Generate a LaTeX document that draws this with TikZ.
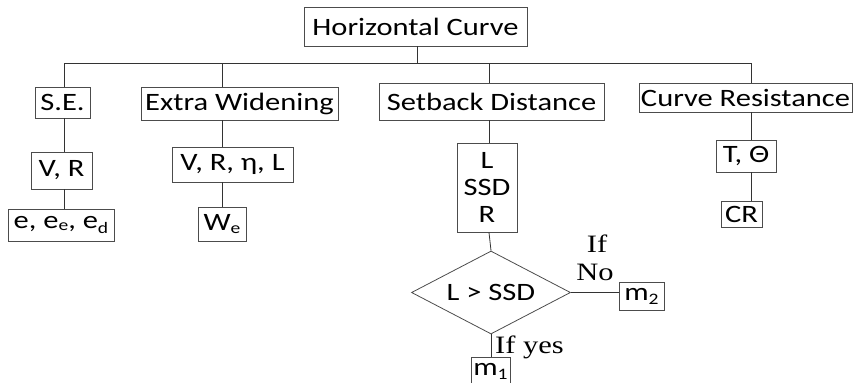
\documentclass[tikz,border=0pt]{standalone}
\usepackage{fontspec}
\setmainfont[FakeStretch=1.22]{Carlito}
\newfontfamily\serifstretch[FakeStretch=1.22]{Liberation Serif}
\usetikzlibrary{shapes.geometric}
\newcommand\sbx[2][3pt]{\raisebox{-#1}{\fontsize{16}{16}\selectfont #2}}
\begin{document}
\begin{tikzpicture}[x=1pt,y=-1pt,
  box/.style={draw=black!70,line width=0.8pt,rectangle,inner sep=0pt,font=\fontsize{25}{27}\selectfont},
  conn/.style={draw=black!80,line width=0.8pt},
  lbl/.style={font=\serifstretch\fontsize{25}{27}\selectfont,inner sep=0pt}]
\useasboundingbox (0,0) rectangle (855,383);
% boxes
\node[box,minimum width=223,minimum height=39] (hc) at (415.5,26.5) {Horizontal Curve};
\node[box,minimum width=55,minimum height=31] (se) at (62.5,102.5) {S.E.};
\node[box,minimum width=197,minimum height=33] (ew) at (239.5,103.5) {Extra Widening};
\node[box,minimum width=225,minimum height=37] (sd) at (491.5,101.5) {Setback Distance};
\node[box,minimum width=213,minimum height=29] (cr) at (745.5,97.5) {Curve Resistance};
\node[box,minimum width=61,minimum height=37] (vr) at (61.5,170.5) {V, R};
\node[box,minimum width=121,minimum height=35] (vrnl) at (232.5,164.5) {V, R, η, L};
\node[box,minimum width=60,minimum height=89,align=center] (lsr) at (487,187.5) {L\\SSD\\R};
\node[box,minimum width=60,minimum height=32] (tt) at (746,156) {T, Θ};
\node[box,minimum width=106,minimum height=32] (ee) at (61,225) {e, e\sbx[2pt]{e}, e\sbx[5pt]{d}};
\node[box,minimum width=48,minimum height=34] (we) at (222,224) {W\sbx[3pt]{e}};
\node[box,minimum width=41,minimum height=26] (crr) at (741.5,214) {CR};
\node[box,draw=black!70,shape=diamond,shape aspect=1.92,minimum width=159,minimum height=83] (dia) at (491,292.5) {L > SSD};
\node[box,minimum width=45,minimum height=28] (m2) at (641.5,296) {m\sbx[4pt]{2}};
\node[box,minimum width=39,minimum height=28] (m1) at (490.5,371) {m\sbx[4pt]{1}};
% labels
\node[lbl,anchor=base] (lif) at (597,252) {If};
\node[lbl,anchor=base] (lno) at (595,280) {No};
\node[lbl,anchor=base west] (lyes) at (495,353) {If yes};
% bar coordinates
\coordinate (bt) at (417,63);
\coordinate (b1) at (64,63);
\coordinate (b2) at (222,63);
\coordinate (b3) at (489,63);
\coordinate (b4) at (751,63);
% connectors
\draw[conn] (hc.south -| bt) -- (bt);
\draw[conn] (b1) -- (b4);
\draw[conn] (b1) -- (se.north -| b1);
\draw[conn] (b2) -- (ew.north -| b2);
\draw[conn] (b3) -- (sd.north -| b3);
\draw[conn] (b4) -- (cr.north -| b4);
\draw[conn] (se.south -| b1) -- (vr.north -| b1);
\draw[conn] (vr.south -| b1) -- (ee.north -| b1);
\draw[conn] (ew.south -| b2) -- (vrnl.north -| b2);
\draw[conn] (vrnl.south -| b2) -- (we.north -| b2);
\draw[conn] (sd.south -| b3) -- (lsr.north -| b3);
\draw[conn] (lsr.south -| b3) -- (dia.north);
\draw[conn] (cr.south -| b4) -- (tt.north -| b4);
\draw[conn] (tt.south -| b4) -- (crr.north -| b4);
\draw[conn] (dia.east) -- (dia.east -| m2.west);
\draw[conn] (dia.south) -- (m1.north -| dia.south);
\end{tikzpicture}
\end{document}
